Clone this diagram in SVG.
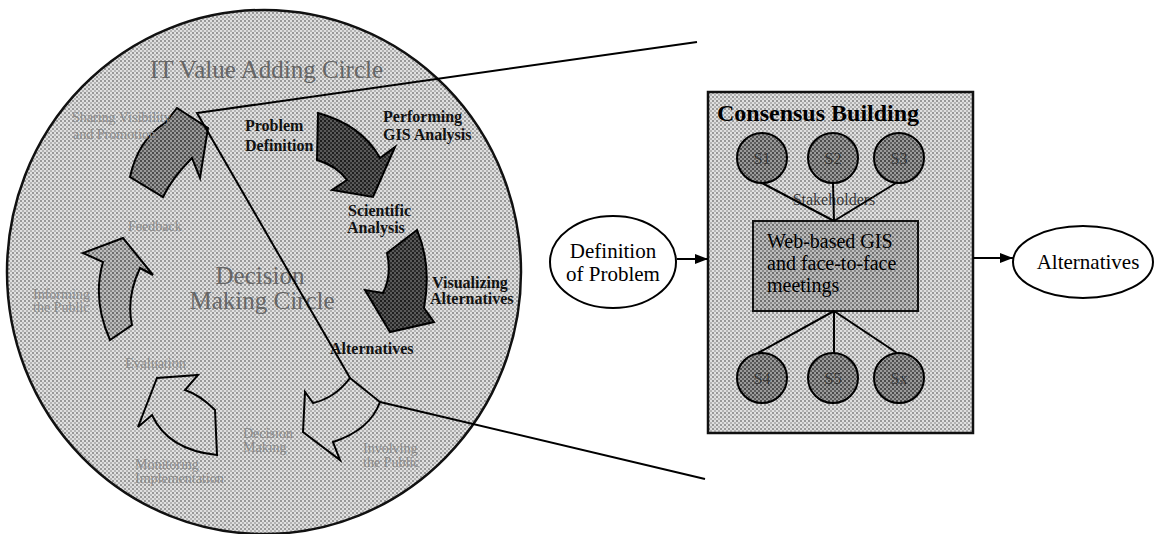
<svg xmlns="http://www.w3.org/2000/svg" width="1156" height="534" viewBox="0 0 1156 534">
  <defs>
    <!-- halftone fills -->
    <pattern id="dotLight" width="4" height="4" patternUnits="userSpaceOnUse">
      <rect width="4" height="4" fill="#e0e0e0"/>
      <rect width="2" height="2" fill="#989898"/>
      <rect x="2" y="2" width="2" height="2" fill="#b4b4b4"/>
    </pattern>
    <pattern id="dotMid" width="4" height="4" patternUnits="userSpaceOnUse">
      <rect width="4" height="4" fill="#bdbdbd"/>
      <rect width="2" height="2" fill="#6e6e6e"/>
      <rect x="2" y="2" width="2" height="2" fill="#8a8a8a"/>
    </pattern>
    <pattern id="dotDark" width="4" height="4" patternUnits="userSpaceOnUse">
      <rect width="4" height="4" fill="#9a9a9a"/>
      <rect width="2" height="2" fill="#4a4a4a"/>
      <rect x="2" y="2" width="2" height="2" fill="#5e5e5e"/>
    </pattern>
    <pattern id="dotBlack" width="4" height="4" patternUnits="userSpaceOnUse">
      <rect width="4" height="4" fill="#5a5a5a"/>
      <rect width="2" height="2" fill="#1e1e1e"/>
      <rect x="2" y="2" width="2" height="2" fill="#2c2c2c"/>
    </pattern>
    <marker id="head" markerWidth="13" markerHeight="10" refX="13" refY="5" orient="auto" markerUnits="userSpaceOnUse">
      <path d="M0,0 L13,5 L0,10 Z" fill="#000"/>
    </marker>
    <style>
      text { font-family: "Liberation Serif", "Times New Roman", serif; }
      .title { fill: #666; font-size: 25px; }
      .faint { fill: #8a8a8a; font-size: 14px; }
      .step { fill: #111; font-size: 16px; font-weight: bold; }
      .node { fill: #000; font-size: 21px; }
      .web { fill: #000; font-size: 20px; }
      .sl { fill: #3a3a3a; font-size: 16px; text-anchor: middle; }
      .arrow { stroke: #000; stroke-width: 2; stroke-linejoin: miter; }
      .edge { stroke: #000; stroke-width: 2; fill: none; }
      .sh { fill: url(#dotDark); stroke: #000; stroke-width: 2; }
    </style>
  </defs>

  <!-- left: decision making circle -->
  <g id="decision-circle">
    <ellipse cx="264" cy="272" rx="257" ry="262" fill="url(#dotLight)" stroke="#111" stroke-width="2.5"/>
    <text class="title" x="150" y="78">IT Value Adding Circle</text>
    <text class="title" x="260" y="284" text-anchor="middle" font-size="26">Decision</text>
    <text class="title" x="262" y="309" text-anchor="middle" font-size="26">Making Circle</text>
  </g>

  <g id="cycle-arrows">
    <!-- sharing / promotion -->
    <path id="arrow-sharing" class="arrow" fill="url(#dotDark)" d="M130,177 Q138,140 165,123 L177,108 L208,128 L200,178 L192,158 Q172,178 163,197 Z"/>
    <!-- problem definition to GIS analysis -->
    <path id="arrow-gis" class="arrow" fill="url(#dotBlack)" d="M318,113 Q362,125 380,158 L395,147 L373,197 L332,190 L347,180 Q337,166 317,160 Z"/>
    <!-- scientific analysis to visualizing -->
    <path id="arrow-visual" class="arrow" fill="url(#dotBlack)" d="M387,253 L417,230 Q432,265 424,308 L434,322 L390,332 L365,290 L383,293 Q392,275 387,253 Z"/>
    <!-- involving the public -->
    <path id="arrow-involve" class="arrow" fill="url(#dotLight)" d="M350,378 L380,402 Q370,430 333,442 L340,460 L303,432 L305,392 L313,403 Q335,398 350,378 Z"/>
    <!-- monitoring to evaluation -->
    <path id="arrow-evaluate" class="arrow" fill="url(#dotLight)" d="M217,455 L215,410 Q200,395 185,390 L198,375 L157,378 L138,427 L152,415 Q168,450 217,455 Z"/>
    <!-- informing the public -->
    <path id="arrow-inform" class="arrow" fill="url(#dotMid)" d="M110,340 Q92,300 103,262 L83,253 L123,238 L153,275 L140,268 Q126,298 132,325 Z"/>
  </g>

  <g id="cycle-labels">
    <text class="faint" x="72" y="122">Sharing Visibility</text>
    <text class="faint" x="73" y="139">and Promotion</text>
    <text class="step" x="245" y="131">Problem</text>
    <text class="step" x="245" y="151">Definition</text>
    <text class="step" x="383" y="122">Performing</text>
    <text class="step" x="383" y="140">GIS Analysis</text>
    <text class="step" x="348" y="216">Scientific</text>
    <text class="step" x="347" y="233">Analysis</text>
    <text class="faint" x="128" y="231">Feedback</text>
    <text class="step" x="432" y="288">Visualizing</text>
    <text class="step" x="430" y="304">Alternatives</text>
    <text class="faint" x="33" y="299">Informing</text>
    <text class="faint" x="33" y="312">the Public</text>
    <text class="step" x="330" y="354">Alternatives</text>
    <text class="faint" x="125" y="368">Evaluation</text>
    <text class="faint" x="243" y="438">Decision</text>
    <text class="faint" x="243" y="452">Making</text>
    <text class="faint" x="363" y="453">Involving</text>
    <text class="faint" x="363" y="467">the Public</text>
    <text class="faint" x="135" y="469">Monitoring</text>
    <text class="faint" x="135" y="483">Implementation</text>
  </g>

  <!-- right: consensus building detail -->
  <g id="definition">
    <ellipse cx="613" cy="262" rx="63" ry="46" fill="#fff" stroke="#000" stroke-width="2"/>
    <text class="node" x="613" y="258" text-anchor="middle">Definition</text>
    <text class="node" x="613" y="281" text-anchor="middle">of Problem</text>
  </g>

  <g id="consensus">
    <rect x="708" y="92" width="265" height="341" fill="url(#dotLight)" stroke="#111" stroke-width="2.5"/>
    <text x="717" y="121" font-size="24" font-weight="bold" fill="#000">Consensus Building</text>
    <text x="834" y="205" class="sl" font-size="18" fill="#333">Stakeholders</text>
  </g>

  <g id="web-gis">
    <rect x="753" y="221" width="165" height="90" fill="url(#dotMid)" stroke="#111" stroke-width="2"/>
    <text class="web" x="767" y="248">Web-based GIS</text>
    <text class="web" x="767" y="270">and face-to-face</text>
    <text class="web" x="767" y="292">meetings</text>
  </g>

  <g id="alternatives">
    <ellipse cx="1083" cy="262" rx="70" ry="36" fill="#fff" stroke="#000" stroke-width="2"/>
    <text class="node" x="1088" y="269" text-anchor="middle">Alternatives</text>
  </g>

  <g id="connectors">
    <polyline class="edge" points="697,42 197,113 350,378"/>
    <line class="edge" x1="380" y1="402" x2="705" y2="479"/>
    <line class="edge" x1="677" y1="259" x2="708" y2="259" marker-end="url(#head)"/>
    <line class="edge" x1="973" y1="258" x2="1013" y2="258" marker-end="url(#head)"/>
    <line class="edge" x1="762" y1="183" x2="834" y2="221"/>
    <line class="edge" x1="833" y1="183" x2="834" y2="221"/>
    <line class="edge" x1="896" y1="183" x2="834" y2="221"/>
    <line class="edge" x1="834" y1="311" x2="758" y2="353"/>
    <line class="edge" x1="834" y1="311" x2="834" y2="353"/>
    <line class="edge" x1="834" y1="311" x2="897" y2="353"/>
  </g>

  <g id="stakeholders">
    <g id="s1"><circle class="sh" cx="762" cy="158" r="25"/><text class="sl" x="762" y="164">S1</text></g>
    <g id="s2"><circle class="sh" cx="833" cy="158" r="25"/><text class="sl" x="833" y="164">S2</text></g>
    <g id="s3"><circle class="sh" cx="899" cy="158" r="25"/><text class="sl" x="899" y="164">S3</text></g>
    <g id="s4"><circle class="sh" cx="762" cy="378" r="25"/><text class="sl" x="762" y="384">S4</text></g>
    <g id="s5"><circle class="sh" cx="833" cy="378" r="25"/><text class="sl" x="833" y="384">S5</text></g>
    <g id="sx"><circle class="sh" cx="899" cy="378" r="25"/><text class="sl" x="899" y="384">Sx</text></g>
  </g>
</svg>
